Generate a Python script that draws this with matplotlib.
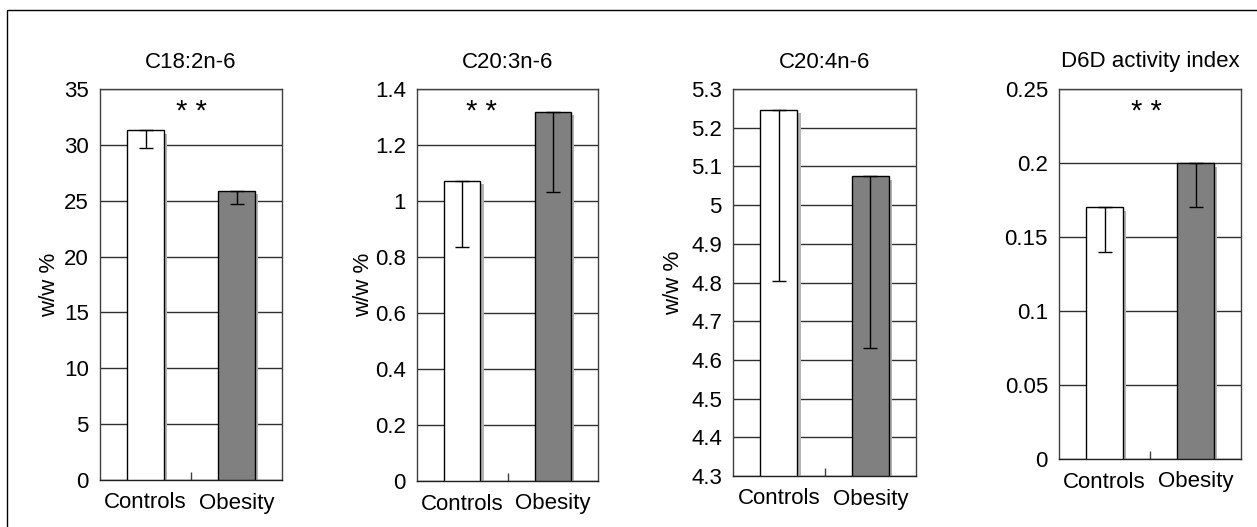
import numpy as np
import matplotlib
matplotlib.use("Agg")
import matplotlib.pyplot as plt
from matplotlib.transforms import ScaledTranslation
from matplotlib.patches import Rectangle

plt.rcParams["font.family"] = ["Liberation Sans", "DejaVu Sans"]
plt.rcParams["font.size"] = 16

# data
groups = ["Controls", "Obesity"]
titles = ["C18:2n-6", "C20:3n-6", "C20:4n-6", "D6D activity index"]
means = [[31.3, 25.9], [1.073, 1.319], [5.247, 5.075], [0.170, 0.200]]
lower = [[29.7, 24.7], [0.834, 1.032], [4.803, 4.632], [0.140, 0.170]]
ylims = [(0, 35), (0, 1.4), (4.3, 5.3), (0, 0.25)]
ysteps = [5, 0.2, 0.1, 0.05]
ylabels = ["w/w %", "w/w %", "w/w %", ""]
starred = [True, True, False, True]
tick_fmt = ["{:.0f}", "{:g}", "{:g}", "{:g}"]

W, H = 1257, 527
fig = plt.figure(figsize=(W / 100, H / 100), dpi=100)

# axes boxes in pixels: left, right, top, bottom
boxes = [(100, 282, 89, 480), (417, 598, 89, 481), (733, 916, 89, 476), (1059, 1241, 89, 459)]
star_x = [0.5, 0.354, 0.5, 0.48]
ylab_x = [-0.22, -0.235, -0.27, 0]

# outer frame
fig.patches.append(Rectangle((7 / W, -0.1), 2, (H - 10) / H + 0.1, transform=fig.transFigure,
                             fill=False, ec="black", lw=1.0))

x = np.arange(2)
colors = ["white", "#808080"]
for i in range(4):
    l, r, t, b = boxes[i]
    ax = fig.add_axes([l / W, (H - b) / H, (r - l) / W, (b - t) / H])
    lo, hi = ylims[i]
    m = np.array(means[i])
    err = m - np.array(lower[i])

    # shadow
    shift = ax.transData + ScaledTranslation(3.5 / 100, -3.5 / 100, fig.dpi_scale_trans)
    ax.bar(x, m - lo, bottom=lo, width=0.4, color="#b4b4b4", lw=0, transform=shift, zorder=2)
    ax.bar(x, m - lo, bottom=lo, width=0.4, color=colors, edgecolor="black", lw=1.0, zorder=3)
    ax.errorbar(x, m, yerr=[err, np.zeros(2)], fmt="none", ecolor="black", elinewidth=1.0,
                capsize=5, capthick=1.0, zorder=4)

    ax.set_xlim(-0.5, 1.5)
    ax.set_ylim(lo, hi)
    yt = np.arange(lo, hi + ysteps[i] / 2, ysteps[i])
    ax.set_yticks(yt)
    ax.set_yticklabels([tick_fmt[i].format(round(v, 3)) for v in yt])
    ax.set_xticks(x)
    ax.set_xticklabels(groups)
    ax.set_xticks([0.5], minor=True)
    ax.tick_params(axis="both", which="major", length=0)
    ax.tick_params(axis="y", pad=8)
    ax.tick_params(axis="x", pad=9)
    ax.tick_params(axis="x", which="minor", direction="in", length=6, width=1, color="#404040")
    ax.yaxis.grid(True, color="#303030", lw=1.0, zorder=1)
    ax.set_axisbelow(True)
    for s in ax.spines.values():
        s.set_color("#404040")
        s.set_linewidth(1.0)
    ax.spines["bottom"].set_color("#202020")

    if ylabels[i]:
        ax.set_ylabel(ylabels[i])
        ax.yaxis.set_label_coords(ylab_x[i], 0.5)

    fig.text((l + r) / 2 / W, 1 - 62 / H, titles[i], ha="center", va="center")
    if starred[i]:
        ax.annotate("* *", xy=(star_x[i], 1), xycoords="axes fraction", xytext=(0, -9),
                    textcoords="offset pixels", ha="center", va="top", fontsize=21)

fig.savefig("out.png", dpi=100)
